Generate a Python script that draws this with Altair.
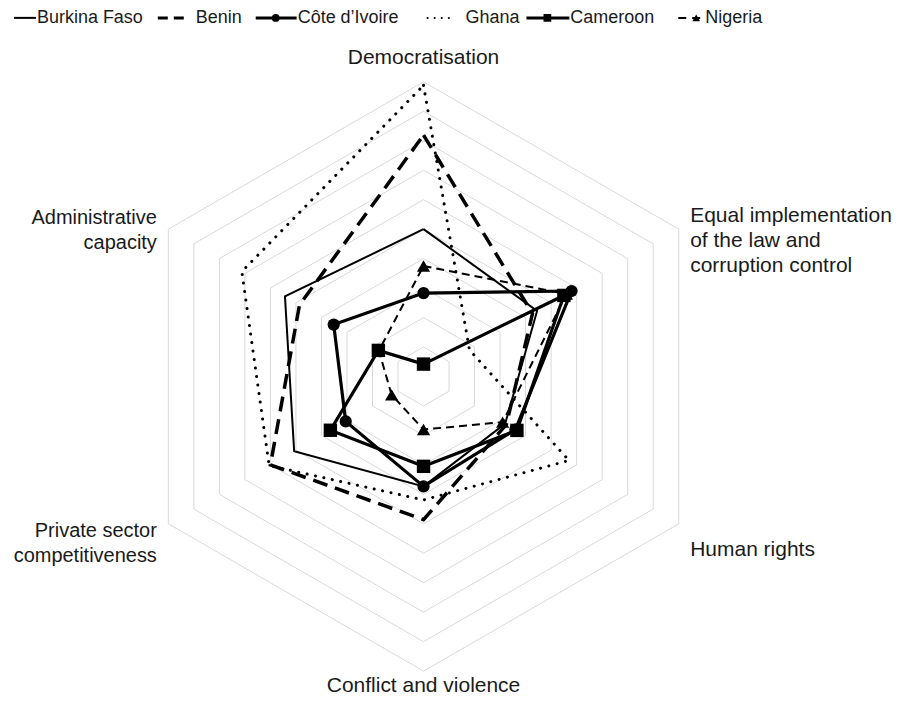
import math
import altair as alt
import pandas as pd

# ---------------- data ----------------
axes_names = ["Democratisation",
              "Equal implementation of the law and corruption control",
              "Human rights", "Conflict and violence",
              "Private sector competitiveness", "Administrative capacity"]
axis_label_text = ["Democratisation",
                   "Equal implementation\nof the law and\ncorruption control",
                   "Human rights", "Conflict and violence",
                   "Private sector\ncompetitiveness", "Administrative\ncapacity"]
countries = ["Burkina Faso", "Benin", "Côte d\u2019Ivoire", "Ghana", "Cameroon", "Nigeria"]

burkina_faso = [5.00, 4.45, 3.20, 3.73, 5.07, 5.43]
benin = [8.19, 4.27, 3.25, 4.86, 6.00, 4.86]
cote_divoire = [2.83, 5.80, 3.60, 3.73, 3.05, 3.52]
ghana = [9.88, 1.80, 5.70, 4.19, 6.05, 7.12]
cameroon = [0.42, 5.50, 3.66, 3.05, 3.65, 1.77]
nigeria = [3.75, 5.60, 3.10, 1.80, 1.25, 1.75]
series_values = [burkina_faso, benin, cote_divoire, ghana, cameroon, nigeria]
grid_levels = [1, 2, 3, 4, 5, 6, 7, 8, 9, 10]

# ---------------- layout ----------------
W, H = 886, 689
CX, CY, UNIT = 416.0, 368.5, 29.5
XD = [-CX / UNIT, (W - CX) / UNIT]
YD = [-(H - CY) / UNIT, CY / UNIT]
FONT = "Liberation Sans"

def ang(k):
    return math.radians(90 - 60 * k)

xs = alt.Scale(domain=XD, nice=False, zero=False)
ys = alt.Scale(domain=YD, nice=False, zero=False)
X = lambda: alt.X("x:Q", scale=xs, axis=None)
Y = lambda: alt.Y("y:Q", scale=ys, axis=None)

def polygon(vals, name):
    rows = []
    for i in range(7):
        k = i % 6
        rows.append({"series": name, "axis": axes_names[k], "value": vals[k], "o": i,
                     "x": vals[k] * math.cos(ang(k)), "y": vals[k] * math.sin(ang(k))})
    return pd.DataFrame(rows)

layers = []

# grid hexagons
grid_rows = []
for lv in grid_levels:
    for i in range(7):
        k = i % 6
        grid_rows.append({"lv": lv, "o": i, "x": lv * math.cos(ang(k)), "y": lv * math.sin(ang(k))})
grid = pd.DataFrame(grid_rows)
layers.append(
    alt.Chart(grid).mark_line(color="#d9d9d9", strokeWidth=1).encode(
        x=X(), y=Y(), detail="lv:N", order="o:Q")
)

DOT = [0.1, 8.5]
styles = [
    dict(width=2.0, dash=None, shape=None, leg_dash=None),
    dict(width=3.5, dash=[15, 8], shape=None, leg_dash=[10, 6]),
    dict(width=3.2, dash=None, shape="circle", leg_dash=None),
    dict(width=3.0, dash=DOT, shape=None, leg_dash=[0.1, 7]),
    dict(width=3.2, dash=None, shape="square", leg_dash=None),
    dict(width=2.0, dash=[8, 5], shape="triangle-up", leg_dash=[8, 6]),
]
msize = {"circle": 150, "square": 180, "triangle-up": 175}

for name, vals, st in zip(countries, series_values, styles):
    df = polygon(vals, name)
    kw = dict(color="black", strokeWidth=st["width"])
    if st["dash"]:
        kw["strokeDash"] = st["dash"]
    if st["dash"] is DOT:
        kw["strokeCap"] = "round"
    layers.append(alt.Chart(df).mark_line(**kw).encode(x=X(), y=Y(), order="o:Q"))
    if st["shape"]:
        layers.append(
            alt.Chart(df[df.o < 6]).mark_point(shape=st["shape"], filled=True, opacity=1,
                                                size=msize[st["shape"]], color="black").encode(
                x=X(), y=Y())
        )

# axis labels
LBL_R = 10.45
lbl_style = [
    dict(align="center", baseline="middle", dy=-11, fs=21),
    dict(align="left", baseline="middle", dy=-7, fs=21),
    dict(align="left", baseline="middle", dy=20, fs=21),
    dict(align="center", baseline="alphabetic", dy=7.5, fs=21),
    dict(align="right", baseline="middle", dy=0.5, fs=20),
    dict(align="right", baseline="middle", dy=-4.5, fs=20),
]
for k, (txt, st) in enumerate(zip(axis_label_text, lbl_style)):
    d = pd.DataFrame({"label": [txt], "x": [LBL_R * math.cos(ang(k))], "y": [LBL_R * math.sin(ang(k))]})
    layers.append(
        alt.Chart(d).mark_text(align=st["align"], baseline=st["baseline"], dy=st["dy"], font=FONT,
                               fontSize=st["fs"], lineBreak="\n", lineHeight=25.5, color="#1a1a1a").encode(
            x=X(), y=Y(), text="label:N")
    )

# legend (manual, top)
LEG_Y = 9.5
leg_items = [
    dict(x0=6, x1=28, mk=None, tx=29),
    dict(x0=150, x1=178, mk=None, tx=188),
    dict(x0=248, x1=289, mk=268, tx=290),
    dict(x0=420, x1=447, mk=None, tx=458),
    dict(x0=519, x1=562, mk=540, tx=563),
    dict(x0=671, x1=694, mk=689, tx=698),
]
one = pd.DataFrame({"a": [0]})
for name, st, li in zip(countries, styles, leg_items):
    kw = dict(color="black", strokeWidth=min(st["width"], 3))
    if st["leg_dash"]:
        kw["strokeDash"] = st["leg_dash"]
    if st["dash"] is DOT:
        kw["strokeCap"] = "round"
        kw["strokeWidth"] = 2
    layers.append(alt.Chart(one).mark_rule(**kw).encode(
        x=alt.value(li["x0"]), x2=alt.value(li["x1"]), y=alt.value(LEG_Y)))
    if st["shape"]:
        layers.append(alt.Chart(one).mark_point(shape=st["shape"], filled=True, opacity=1,
                                                size=60, color="black").encode(
            x=alt.value(li["mk"]), y=alt.value(LEG_Y)))
    layers.append(alt.Chart(pd.DataFrame({"t": [name]})).mark_text(
        align="left", baseline="middle", font=FONT, fontSize=18, color="#1a1a1a").encode(
        x=alt.value(li["tx"]), y=alt.value(LEG_Y), text="t:N"))

chart = alt.layer(*layers).properties(
    width=W, height=H, padding=0, autosize=alt.AutoSizeParams(type="none")
).configure(background="white").configure_view(stroke=None)

chart.save("out.html", embed_options={"renderer": "svg", "actions": False})
